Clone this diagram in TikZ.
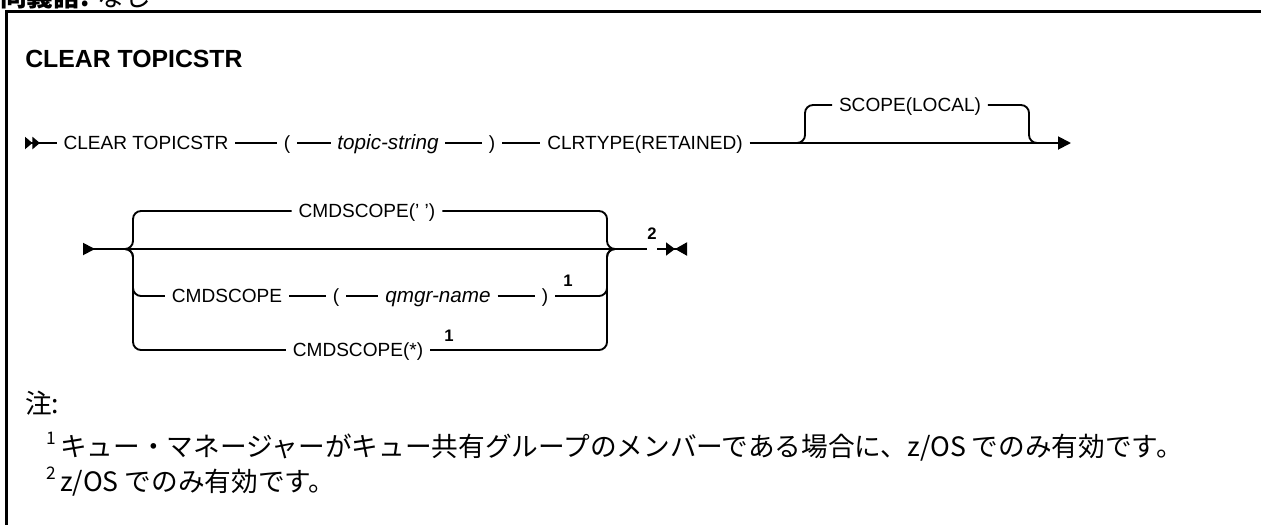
\documentclass[tikz,border=0pt]{standalone}
\usepackage{fontspec}
\setmainfont{Liberation Sans}
\newfontfamily\jpfont{Noto Sans CJK JP}
\usetikzlibrary{arrows.meta}

\tikzset{
  rail/.style={line width=1.4pt, rounded corners=6pt},
  kw/.style={font=\fontsize{14.3}{17}\selectfont, inner xsep=5pt, inner ysep=0pt, text height=10.2pt, text depth=0pt},
  var/.style={kw, font=\fontsize{15.5}{18}\selectfont\itshape},
  fnote/.style={font=\bfseries\fontsize{12.5}{14}\selectfont, inner sep=0pt},
  note/.style={font=\jpfont\fontsize{20}{24}\selectfont, anchor=west, inner sep=0pt},
  startmark/.style={{Triangle[reversed,length=5.6pt,width=9pt,sep=0pt]Triangle[reversed,length=5.6pt,width=9pt]}-},
  contmark/.style={{Triangle[reversed,length=9pt,width=9pt]}-},
  endmark/.style={-{Triangle[length=6.75pt,width=9.75pt,sep=0pt]Triangle[reversed,length=9pt,width=9.75pt]}}
}

\begin{document}
\begin{tikzpicture}[x=0.75pt,y=-0.75pt]
\useasboundingbox (0,0) rectangle (1261,525);
\clip (0,0) rectangle (1261,525);
\draw[line width=2pt] (6.5,11.5) rectangle (1300,560);
\node[font=\jpfont\fontsize{20}{24}\selectfont, anchor=base west, inner sep=0pt] (hdr) at (0,6) {\textbf{同義語:} なし};
\node[font=\bfseries\fontsize{18.6}{22}\selectfont, anchor=west, inner sep=0pt] (title) at (25,59) {CLEAR TOPICSTR};

% first line
\coordinate (s1) at (25,143);
\node[kw] (clear) at (146,143) {CLEAR TOPICSTR};
\node[kw] (lp1) at (287,143) {(};
\node[var] (ts) at (388,143) {topic-string};
\node[kw] (rp1) at (492,143) {)};
\node[kw] (clr) at (645,143) {CLRTYPE(RETAINED)};
\node[kw] (scope) at (910,105) {SCOPE(LOCAL)};
\coordinate (j1) at (789,143);
\coordinate (k1) at (805,143);
\coordinate (k2) at (1029,143);
\coordinate (j2) at (1045,143);
\coordinate (e1) at (1071,143);
\draw[rail,startmark] (s1) -- (clear);
\draw[rail] (clear) -- (lp1) -- (ts) -- (rp1) -- (clr);
\draw[rail,-{Triangle[length=9.75pt,width=9.75pt]}] (clr) -- (e1);
\draw[rail] (j1) -- (k1) |- (scope.west);
\draw[rail] (scope.east) -| (k2) -- (j2);

% second line
\coordinate (s2) at (83,249);
\coordinate (j3) at (125,249);
\coordinate (k3) at (133,249);
\coordinate (k4) at (607,249);
\coordinate (j4) at (617,249);
\coordinate (g1) at (647,249);
\coordinate (g2) at (657,249);
\coordinate (e2) at (687,249);
\node[kw] (cmdq) at (367,211) {CMDSCOPE(' ')};
\node[kw] (cmd) at (227,296) {CMDSCOPE};
\node[kw] (lp2) at (336,296) {(};
\node[var] (qn) at (438,296) {qmgr-name};
\node[kw] (rp2) at (545,296) {)};
\node[fnote] (fa) at (568,281) {1};
\node[kw] (cmds) at (358,350) {CMDSCOPE(*)};
\node[fnote] (fb) at (449,336) {1};
\node[fnote] (fc) at (652,234) {2};
\draw[rail,contmark] (s2) -- (g1);
\draw[rail] (j3) -- (k3) |- (cmdq.west);
\draw[rail] (cmdq.east) -| (k4) -- (j4);
\draw[rail] (j3) -- (k3) |- (cmd.west);
\draw[rail] (cmd) -- (lp2) -- (qn) -- (rp2);
\draw[rail] (rp2.east) -| (k4) -- (j4);
\draw[rail] (j3) -- (k3) |- (cmds.west);
\draw[rail] (cmds.east) -| (k4) -- (j4);
\draw[rail,endmark] (g2) -- (e2);

% notes
\node[note] (zhu) at (25,403) {注:};
\node[note] (n1) at (46,447) {\raisebox{0.45em}{\fontsize{13}{13}\selectfont 1}\,キュー・マネージャーがキュー共有グループのメンバーである場合に、z/OS でのみ有効です。};
\node[note] (n2) at (46,482) {\raisebox{0.45em}{\fontsize{13}{13}\selectfont 2}\,z/OS でのみ有効です。};
\end{tikzpicture}
\end{document}
